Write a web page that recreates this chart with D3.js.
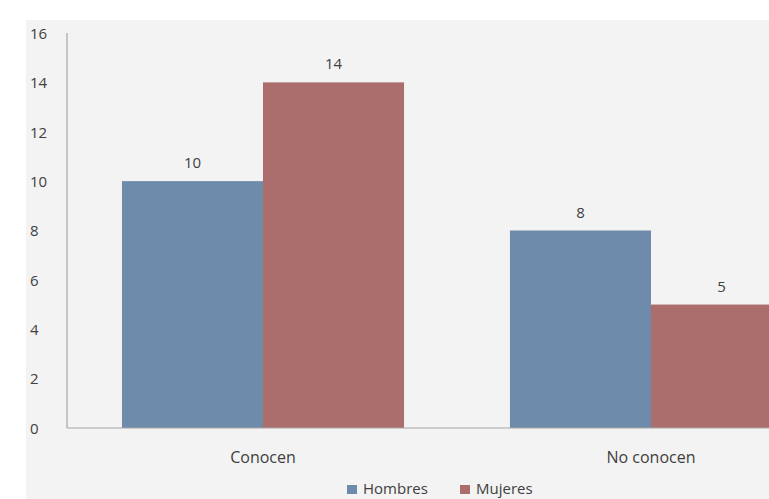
<!DOCTYPE html>
<html><head><meta charset="utf-8">
<script src="https://cdn.jsdelivr.net/npm/d3@7"></script>
<style>
html,body{margin:0;padding:0;background:#fff;}
svg{display:block;}
text{font-family:"Open Sans","Liberation Sans",sans-serif;fill:#404040;}
</style></head><body>
<svg id="chart" width="769" height="499"></svg>
<script>
const categories = ["Conocen", "No conocen"];
const seriesNames = ["Hombres", "Mujeres"];
const hombres = [10, 8];
const mujeres = [14, 5];
const yTicks = [0, 2, 4, 6, 8, 10, 12, 14, 16];
const colors = ["#6f8bab", "#ab6e6c"];

const svg = d3.select("#chart");
svg.append("rect").attr("x", 26).attr("y", 20).attr("width", 743).attr("height", 479).attr("fill", "#f3f3f3");

const x0 = 67, yTop = 33, yBot = 428;
const y = d3.scaleLinear().domain([0, 16]).range([yBot, yTop]);
const x = d3.scaleBand().domain(categories).range([x0 + 2, x0 + 2 + 2 * 388]).paddingInner(0.273).paddingOuter(0.1365);
const xs = d3.scaleBand().domain(seriesNames).range([0, x.bandwidth()]);

const data = categories.map((c, i) => ({cat: c, vals: [hombres[i], mujeres[i]]}));
const FONT = '"Open Sans","Liberation Sans",sans-serif';

const g = svg.append("g");
data.forEach(d => {
  d.vals.forEach((v, j) => {
    const bx = x(d.cat) + xs(seriesNames[j]);
    g.append("rect").attr("x", bx).attr("y", y(v)).attr("width", xs.bandwidth()).attr("height", yBot - y(v)).attr("fill", colors[j]);
    g.append("text").attr("x", bx + xs.bandwidth() / 2).attr("y", y(v) - 13).attr("text-anchor", "middle").attr("font-size", 15).text(v);
  });
});

// y axis
const yAxis = d3.axisLeft(y).tickValues(yTicks).tickSize(0).tickPadding(0);
const ya = svg.append("g").attr("transform", `translate(${x0},0)`).call(yAxis);
ya.select(".domain").remove();
ya.selectAll("text").attr("x", -37).attr("text-anchor", "start").attr("font-size", 15).attr("dy", "0.35em").style("font-family", FONT).attr("fill", "#404040");
svg.append("line").attr("x1", x0).attr("x2", x0).attr("y1", yTop).attr("y2", yBot).attr("stroke", "#a6a6a6").attr("stroke-width", 1.2);

// x axis
const xAxis = d3.axisBottom(x).tickSize(0).tickPadding(0);
const xa = svg.append("g").attr("transform", `translate(0,${yBot})`).call(xAxis);
xa.select(".domain").remove();
xa.selectAll("text").attr("y", 29).attr("dy", "0.35em").attr("font-size", 16).style("font-family", FONT).attr("fill", "#404040");
svg.append("line").attr("x1", x0).attr("x2", 769).attr("y1", yBot).attr("y2", yBot).attr("stroke", "#a6a6a6").attr("stroke-width", 1.2);

// legend
const legendX = [347, 460];
seriesNames.forEach((s, j) => {
  svg.append("rect").attr("x", legendX[j]).attr("y", 485).attr("width", 10).attr("height", 9).attr("fill", colors[j]);
  svg.append("text").attr("x", legendX[j] + 16).attr("y", 494).attr("font-size", 15).text(s);
});
</script>
</body></html>
